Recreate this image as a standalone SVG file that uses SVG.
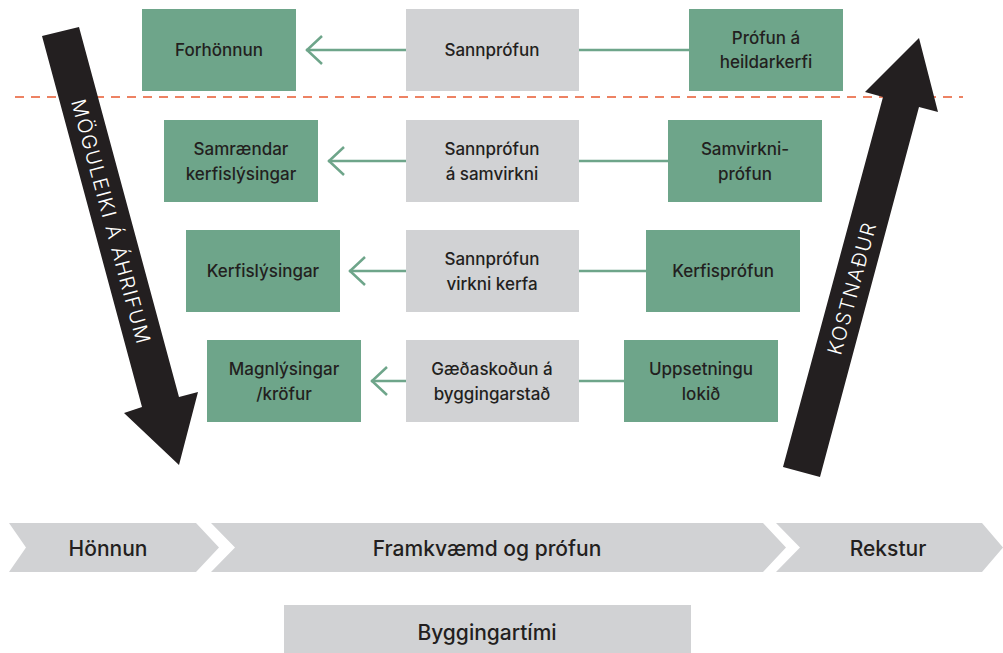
<svg xmlns="http://www.w3.org/2000/svg" width="1003" height="653" viewBox="0 0 1003 653">
<defs>
<style>
.g{fill:#6ea58a}
.gr{fill:#d1d2d4}
.t{font-family:Inter,"Open Sans",sans-serif;font-size:17px;font-weight:500;fill:#231f20;text-anchor:middle;dominant-baseline:central}
.b{font-family:Inter,"Open Sans",sans-serif;font-size:21px;font-weight:500;fill:#231f20;text-anchor:middle;dominant-baseline:central}
.w{font-family:Inter,"Open Sans",sans-serif;font-size:20px;font-weight:300;letter-spacing:1.5px;fill:#ffffff;text-anchor:middle;dominant-baseline:central}
.c{stroke:#6ea58a;stroke-width:2.5;fill:none}
.blk{fill:#231f20}
</style>
<marker id="ah" markerUnits="userSpaceOnUse" markerWidth="30" markerHeight="34" viewBox="-28 -17 30 34" refX="0" refY="0" orient="auto">
<path d="M-16,-14 L-1,0 L-16,14" fill="none" stroke="#6ea58a" stroke-width="2.5"/>
</marker>
</defs>
<rect width="1003" height="653" fill="#ffffff"/>
<line x1="15" y1="97" x2="963" y2="97" stroke="#e85a30" stroke-width="1.6" stroke-dasharray="9,7"/>
<g id="connectors">
<line class="c" x1="406" y1="50" x2="306" y2="50" marker-end="url(#ah)"/>
<line class="c" x1="689" y1="50" x2="579" y2="50"/>
<line class="c" x1="406" y1="161" x2="328" y2="161" marker-end="url(#ah)"/>
<line class="c" x1="668" y1="161" x2="579" y2="161"/>
<line class="c" x1="406" y1="271" x2="349" y2="271" marker-end="url(#ah)"/>
<line class="c" x1="646" y1="271" x2="579" y2="271"/>
<line class="c" x1="406" y1="381" x2="371" y2="381" marker-end="url(#ah)"/>
<line class="c" x1="624" y1="381" x2="579" y2="381"/>
</g>
<g id="forhonnun"><rect class="g" x="142" y="9" width="154" height="82"/><text class="t" x="219" y="50">Forhönnun</text></g>
<g id="sannprofun1"><rect class="gr" x="406" y="9" width="173" height="82"/><text class="t" x="492" y="50">Sannprófun</text></g>
<g id="profun-heildarkerfi"><rect class="g" x="689" y="9" width="154" height="82"/><text class="t" x="766" y="38">Prófun á</text><text class="t" x="766" y="62">heildarkerfi</text></g>
<g id="samraendar"><rect class="g" x="164" y="120" width="154" height="82"/><text class="t" x="241" y="149">Samrændar</text><text class="t" x="241" y="174">kerfislýsingar</text></g>
<g id="sannprofun2"><rect class="gr" x="406" y="120" width="173" height="82"/><text class="t" x="492" y="149">Sannprófun</text><text class="t" x="492" y="174">á samvirkni</text></g>
<g id="samvirkniprofun"><rect class="g" x="668" y="120" width="154" height="82"/><text class="t" x="745" y="149">Samvirkni-</text><text class="t" x="745" y="174">prófun</text></g>
<g id="kerfislysingar"><rect class="g" x="186" y="230" width="154" height="82"/><text class="t" x="263" y="271">Kerfislýsingar</text></g>
<g id="sannprofun3"><rect class="gr" x="406" y="230" width="173" height="82"/><text class="t" x="492" y="259">Sannprófun</text><text class="t" x="492" y="284">virkni kerfa</text></g>
<g id="kerfisprofun"><rect class="g" x="646" y="230" width="154" height="82"/><text class="t" x="723" y="271">Kerfisprófun</text></g>
<g id="magnlysingar"><rect class="g" x="207" y="340" width="154" height="82"/><text class="t" x="284" y="369">Magnlýsingar</text><text class="t" x="284" y="394">/kröfur</text></g>
<g id="gaedaskodun"><rect class="gr" x="406" y="340" width="173" height="82"/><text class="t" x="492" y="369">Gæðaskoðun á</text><text class="t" x="492" y="394">byggingarstað</text></g>
<g id="uppsetningu"><rect class="g" x="624" y="340" width="154" height="82"/><text class="t" x="701" y="369">Uppsetningu</text><text class="t" x="701" y="394">lokið</text></g>
<g id="arrow-left">
<polygon class="blk" points="42,36 79,27 179,397 198,392 179,465 124,413 142,407"/>
<text class="w" transform="translate(111,222) rotate(74.8)">MÖGULEIKI Á ÁHRIFUM</text>
</g>
<g id="arrow-right">
<polygon class="blk" points="783,467 820,477 919,107 938,112 919,38 865,92 883,97"/>
<text class="w" transform="translate(852,288) rotate(-74.8)">KOSTNAÐUR</text>
</g>
<g id="honnun"><polygon class="gr" points="9,523 196,523 219,547.5 196,572 9,572 26,547.5"/><text class="b" x="108" y="548">Hönnun</text></g>
<g id="framkvaemd"><polygon class="gr" points="211,523 763,523 786,547.5 763,572 211,572 235,547.5"/><text class="b" x="487" y="548">Framkvæmd og prófun</text></g>
<g id="rekstur"><polygon class="gr" points="776,523 982,523 1003,547.5 982,572 776,572 800,547.5"/><text class="b" x="888" y="548">Rekstur</text></g>
<g id="byggingartimi"><rect class="gr" x="284" y="605" width="407" height="48"/><text class="b" x="487" y="632">Byggingartími</text></g>
</svg>
